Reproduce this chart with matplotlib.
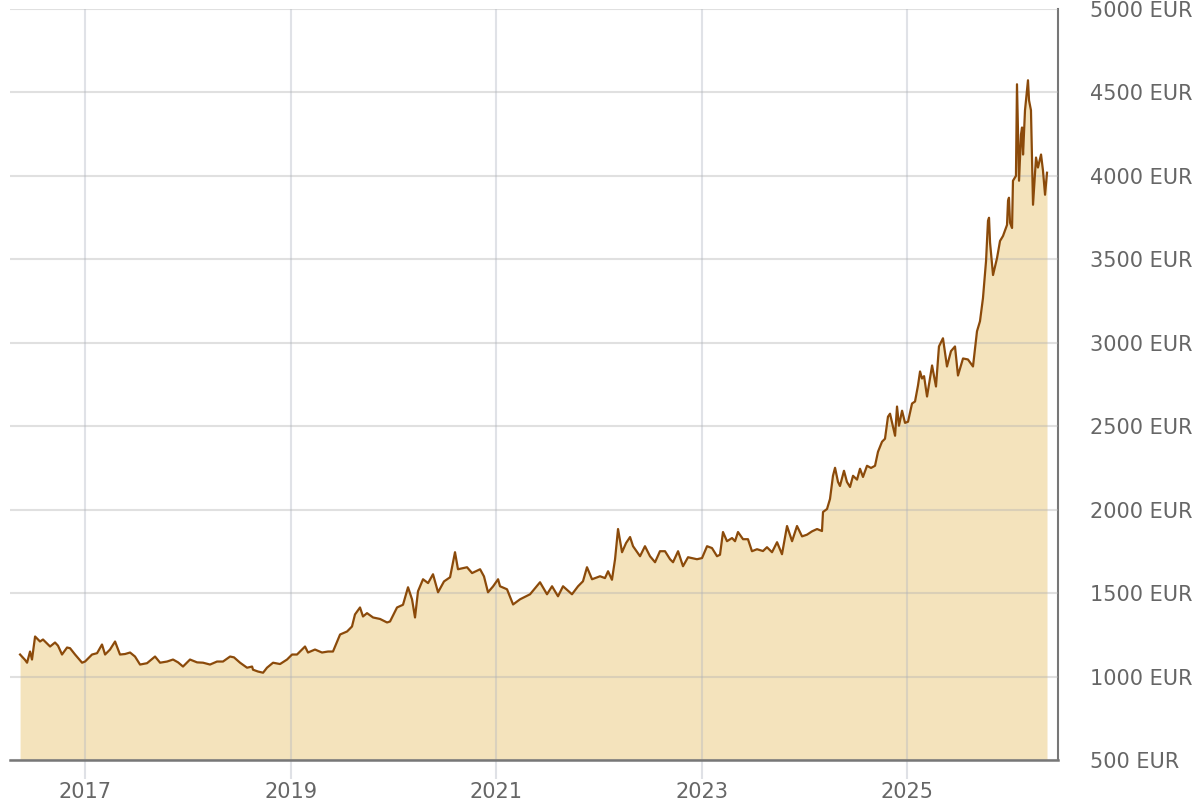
import matplotlib
matplotlib.use("Agg")
import matplotlib.pyplot as plt
import numpy as np

# Gold price in EUR (decimal year, value)
years = [
    2016.368, 2016.416, 2016.436, 2016.465, 2016.484, 2016.514, 2016.562, 2016.591,
    2016.660, 2016.708, 2016.737, 2016.776, 2016.825, 2016.854, 2016.903, 2016.971,
    2017.000, 2017.068, 2017.117, 2017.165, 2017.195, 2017.243, 2017.292, 2017.340,
    2017.389, 2017.438, 2017.486, 2017.535, 2017.603, 2017.681, 2017.730, 2017.798,
    2017.856, 2017.905, 2017.953, 2018.021, 2018.090, 2018.148, 2018.216, 2018.284,
    2018.342, 2018.411, 2018.449, 2018.508, 2018.576, 2018.625, 2018.634, 2018.683,
    2018.732, 2018.770, 2018.829, 2018.897, 2018.965, 2019.014, 2019.062, 2019.140,
    2019.169, 2019.237, 2019.305, 2019.364, 2019.412, 2019.481, 2019.549, 2019.597,
    2019.626, 2019.675, 2019.704, 2019.743, 2019.802, 2019.870, 2019.938, 2019.967,
    2020.035, 2020.093, 2020.142, 2020.181, 2020.210, 2020.239, 2020.288, 2020.337,
    2020.385, 2020.434, 2020.492, 2020.551, 2020.599, 2020.628, 2020.716, 2020.765,
    2020.843, 2020.881, 2020.920, 2020.969, 2021.018, 2021.037, 2021.105, 2021.164,
    2021.232, 2021.329, 2021.426, 2021.494, 2021.543, 2021.601, 2021.650, 2021.737,
    2021.796, 2021.844, 2021.883, 2021.932, 2022.010, 2022.058, 2022.088, 2022.126,
    2022.156, 2022.185, 2022.224, 2022.263, 2022.302, 2022.331, 2022.399, 2022.447,
    2022.496, 2022.545, 2022.593, 2022.642, 2022.691, 2022.720, 2022.769, 2022.817,
    2022.866, 2022.953, 2023.002, 2023.051, 2023.099, 2023.148, 2023.177, 2023.206,
    2023.245, 2023.294, 2023.323, 2023.352, 2023.401, 2023.449, 2023.488, 2023.537,
    2023.595, 2023.634, 2023.683, 2023.732, 2023.780, 2023.829, 2023.878, 2023.926,
    2023.975, 2024.023, 2024.072, 2024.121, 2024.169, 2024.179, 2024.218, 2024.247,
    2024.276, 2024.296, 2024.325, 2024.344, 2024.383, 2024.412, 2024.442, 2024.471,
    2024.510, 2024.539, 2024.568, 2024.607, 2024.646, 2024.685, 2024.714, 2024.753,
    2024.782, 2024.811, 2024.831, 2024.880, 2024.899, 2024.918, 2024.948, 2024.977,
    2025.006, 2025.045, 2025.074, 2025.103, 2025.123, 2025.142, 2025.162, 2025.191,
    2025.240, 2025.278, 2025.307, 2025.346, 2025.385, 2025.424, 2025.463, 2025.492,
    2025.541, 2025.589, 2025.638, 2025.677, 2025.706, 2025.735, 2025.765, 2025.784,
    2025.794, 2025.804, 2025.833, 2025.872, 2025.901, 2025.930, 2025.969, 2025.979,
    2025.988, 2025.998, 2026.018, 2026.027, 2026.056, 2026.066, 2026.086, 2026.105,
    2026.115, 2026.125, 2026.144, 2026.173, 2026.183, 2026.202, 2026.222, 2026.251,
    2026.270, 2026.300, 2026.319, 2026.339, 2026.358,
]
prices = [
    1132, 1100, 1083, 1150, 1102, 1240, 1210, 1222,
    1180, 1204, 1185, 1132, 1174, 1170, 1132, 1083,
    1090, 1132, 1140, 1192, 1132, 1162, 1210, 1132,
    1135, 1144, 1120, 1072, 1080, 1120, 1083, 1090,
    1102, 1085, 1060, 1102, 1085, 1083, 1072, 1090,
    1090, 1120, 1115, 1083, 1053, 1060, 1041, 1030,
    1023, 1053, 1083, 1075, 1102, 1132, 1132, 1180,
    1144, 1162, 1144, 1150, 1150, 1252, 1270, 1300,
    1372, 1414, 1360, 1380, 1354, 1345, 1324, 1330,
    1414, 1430, 1535, 1463, 1354, 1511, 1583, 1560,
    1613, 1505, 1570, 1595, 1745, 1643, 1655, 1620,
    1643, 1600, 1505, 1540, 1583, 1541, 1523, 1432,
    1463, 1493, 1565, 1493, 1541, 1481, 1541, 1493,
    1541, 1571, 1655, 1583, 1601, 1590, 1631, 1580,
    1703, 1884, 1745, 1800, 1836, 1781, 1721, 1781,
    1721, 1685, 1751, 1751, 1703, 1685, 1751, 1661,
    1715, 1703, 1710, 1781, 1770, 1721, 1730, 1866,
    1811, 1830, 1811, 1866, 1823, 1823, 1751, 1763,
    1752, 1775, 1745, 1805, 1733, 1902, 1811, 1902,
    1840, 1850, 1870, 1884, 1872, 1986, 2004, 2064,
    2203, 2251, 2166, 2142, 2233, 2166, 2136, 2203,
    2180, 2245, 2196, 2263, 2250, 2263, 2347, 2407,
    2425, 2557, 2575, 2443, 2618, 2503, 2593, 2520,
    2527, 2636, 2648, 2744, 2828, 2786, 2800, 2678,
    2864, 2738, 2978, 3027, 2858, 2950, 2978, 2804,
    2906, 2900, 2858, 3069, 3129, 3267, 3490, 3731,
    3749, 3600, 3406, 3508, 3610, 3640, 3706, 3851,
    3869, 3720, 3688, 3971, 4000, 4549, 3971, 4248,
    4290, 4128, 4393, 4573, 4453, 4393, 3827, 4110,
    4050, 4128, 4031, 3887, 4019,
]

x_ticks = [2017, 2019, 2021, 2023, 2025]
x_labels = ["2017", "2019", "2021", "2023", "2025"]
y_ticks = [500, 1000, 1500, 2000, 2500, 3000, 3500, 4000, 4500, 5000]
y_labels = [f"{v} EUR" for v in y_ticks]

plt.rcParams['font.family'] = ['DejaVu Sans']

fig = plt.figure(figsize=(12, 8), dpi=100)
ax = fig.add_axes([10/1200, 40/800, 1048/1200, 751/800])

ax.fill_between(years, prices, 500, color="#f4e3bc", linewidth=0, zorder=1)
ax.plot(years, prices, color="#8b4a0a", linewidth=1.6, zorder=3,
        solid_joinstyle='round')

ax.set_xlim(2016.27, 2026.465)
ax.set_ylim(500, 5000)

ax.set_xticks(x_ticks)
ax.set_xticklabels(x_labels)
ax.set_yticks(y_ticks)
ax.set_yticklabels(y_labels)

ax.yaxis.tick_right()
ax.tick_params(axis='y', length=0, pad=23, labelsize=15, labelcolor="#666666")
ax.tick_params(axis='x', length=14, width=1.5, color="#dfe1e6", pad=2,
               labelsize=15, labelcolor="#666666")
for lab in ax.get_yticklabels():
    lab.set_horizontalalignment('left')

ax.xaxis.grid(True, color="#b0b4c0", alpha=0.38, linewidth=1.5, zorder=2)
ax.yaxis.grid(True, color="#b0b0b0", alpha=0.38, linewidth=1.5, zorder=2)
ax.set_axisbelow(False)

for s in ['left', 'top']:
    ax.spines[s].set_visible(False)
ax.spines['bottom'].set_color("#777777")
ax.spines['bottom'].set_linewidth(1.8)
ax.spines['right'].set_color("#777777")
ax.spines['right'].set_linewidth(1.5)
ax.spines['bottom'].set_zorder(4)

fig.savefig("out.png", dpi=100, facecolor="white")
